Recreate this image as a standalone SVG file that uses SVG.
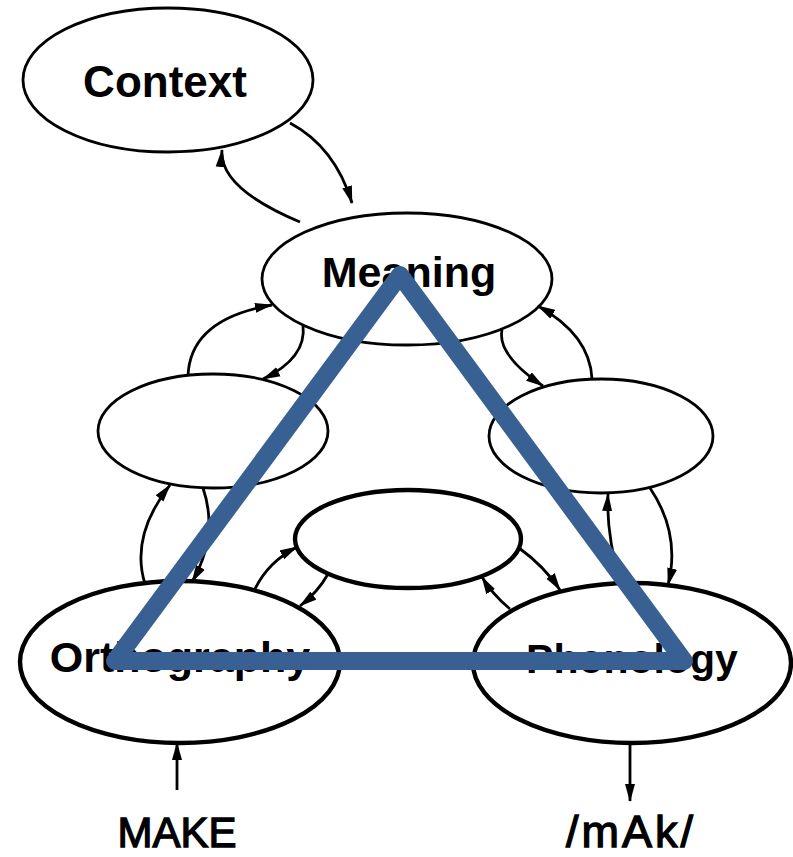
<svg xmlns="http://www.w3.org/2000/svg" width="793" height="857" viewBox="0 0 793 857">
  <style>
    .node { fill: #fff; stroke: #000; stroke-width: 2.8; }
    .node.heavy { stroke-width: 4.4; }
    .lbl { font-family: "Liberation Sans", Arial, sans-serif; font-weight: bold; fill: #000; text-anchor: middle; }
    .io { font-family: "Liberation Sans", Arial, sans-serif; fill: #000; stroke: #000; stroke-width: 1.3; text-anchor: middle; }
    .conn path { fill: none; stroke: #000; stroke-width: 2.8; marker-end: url(#ah); }
    .tri { fill: none; stroke: #386093; stroke-width: 18; stroke-linejoin: round; }
  </style>
  <defs>
    <marker id="ah" viewBox="0 0 18 11" refX="17" refY="5.5" markerWidth="18" markerHeight="11" markerUnits="userSpaceOnUse" orient="auto">
      <path d="M0,0.5 L18,5.5 L0,10.5 z" fill="#000"/>
    </marker>
  </defs>
  <rect width="793" height="857" fill="#fff"/>

  <!-- nodes -->
  <g id="context">
    <ellipse class="node" cx="168" cy="80" rx="145" ry="72"/>
    <text class="lbl" x="165" y="97" font-size="44">Context</text>
  </g>
  <g id="meaning">
    <ellipse class="node" cx="407" cy="279" rx="145" ry="66"/>
    <text class="lbl" x="409" y="287" font-size="43">Meaning</text>
  </g>
  <g id="hidden-left">
    <ellipse class="node" cx="213" cy="431" rx="115" ry="57"/>
  </g>
  <g id="hidden-right">
    <ellipse class="node" cx="601" cy="436" rx="112" ry="57"/>
  </g>
  <g id="hidden-center">
    <ellipse class="node heavy" cx="408" cy="539" rx="113" ry="49"/>
  </g>
  <g id="orthography">
    <ellipse class="node heavy" cx="180" cy="662" rx="160" ry="81"/>
    <text class="lbl" x="180" y="672" font-size="43">Orthography</text>
  </g>
  <g id="phonology">
    <ellipse class="node heavy" cx="632" cy="663" rx="159" ry="80"/>
    <text class="lbl" x="632" y="673" font-size="41">Phonology</text>
  </g>
  <g id="input-make">
    <text class="io" x="177" y="847" font-size="42">MAKE</text>
  </g>
  <g id="output-mak">
    <text class="io" x="631" y="847" font-size="45" letter-spacing="3">/mAk/</text>
  </g>

  <!-- connectors -->
  <g id="connectors" class="conn">
    <!-- Context <-> Meaning -->
    <path d="M290,123 Q335,147 352,203"/>
    <path d="M300,222 Q219,188 222,150"/>
    <!-- Meaning <-> left -->
    <path d="M188,376 Q190,319 272,305"/>
    <path d="M303,325 Q307,358 263,379"/>
    <!-- Meaning <-> right -->
    <path d="M502,330 Q497,355 543,386"/>
    <path d="M592,379 Q590,335 538,306"/>
    <!-- left <-> Orthography -->
    <path d="M145,584 Q130,536 170,485"/>
    <path d="M203,488 Q219,535 192,582"/>
    <!-- right <-> Phonology -->
    <path d="M620,583 Q606,532 608,494"/>
    <path d="M650,488 Q681,534 668,585"/>
    <!-- center <-> Orthography -->
    <path d="M255,589 Q268,562 297,547"/>
    <path d="M328,574 Q318,592 300,606"/>
    <!-- center <-> Phonology -->
    <path d="M519,548 Q544,566 560,590"/>
    <path d="M510,609 Q492,594 482,577"/>
    <!-- input / output -->
    <path d="M177,790 L177,743"/>
    <path d="M630,744 L630,801"/>
  </g>

  <!-- overlay triangle -->
  <path class="tri" d="M400,275 L684,661 L115,661 Z"/>
</svg>
